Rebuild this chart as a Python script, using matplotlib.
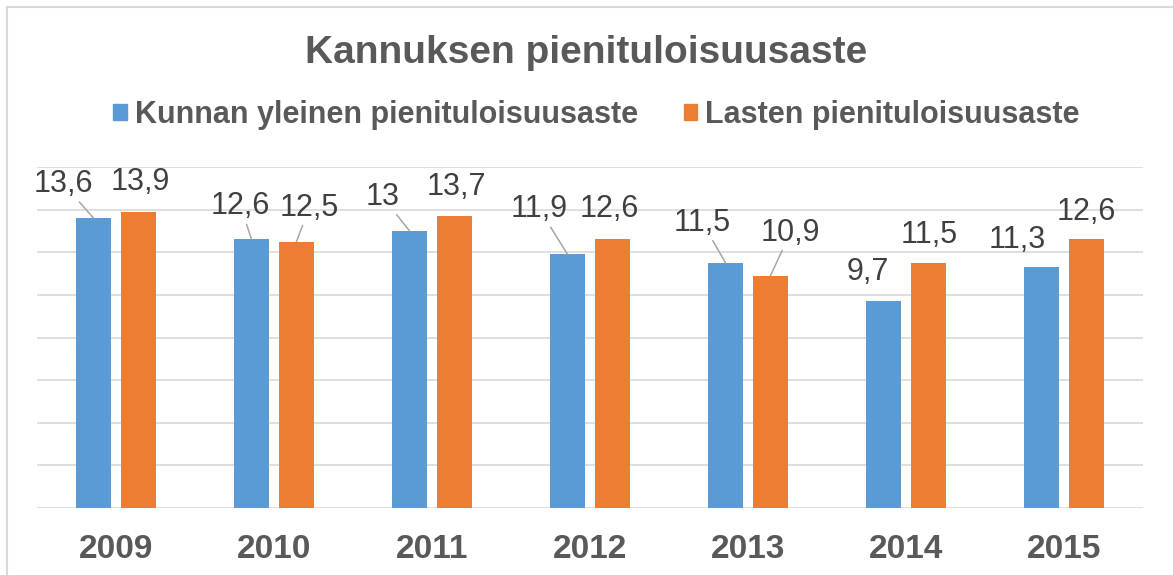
import numpy as np
from matplotlib import pyplot as plt
from matplotlib.patches import Patch
from matplotlib.lines import Line2D

# Data
years = ["2009", "2010", "2011", "2012", "2013", "2014", "2015"]
kunta = [13.6, 12.6, 13.0, 11.9, 11.5, 9.7, 11.3]
lapset = [13.9, 12.5, 13.7, 12.6, 10.9, 11.5, 12.6]
series_names = ["Kunnan yleinen pienituloisuusaste", "Lasten pienituloisuusaste"]

# label offsets (pixels from bar top) and whether a leader line is drawn
kunta_off = [(-30, 34), (-11, 33), (-27, 34), (-28, 45), (-23, 40), (-16, 29), (-24, 27)]
kunta_lead = [True, True, True, True, True, False, False]
lapset_off = [(2, 30), (13, 34), (2, 29), (-3, 30), (20, 43), (1, 28), (0, 27)]
lapset_lead = [False, True, False, False, True, False, False]

blue = "#5B9BD5"
orange = "#ED7D31"
grid_c = "#D9D9D9"
txt_c = "#595959"
lbl_c = "#404040"

plt.rcParams["font.family"] = ["Liberation Sans", "DejaVu Sans"]

fig = plt.figure(figsize=(11.73, 5.75), dpi=100)
ax = fig.add_axes([37 / 1173, 1 - 508 / 575, (1143 - 37) / 1173, (508 - 167) / 575])

x = np.arange(len(years))
w = 0.222
off = 0.142
ax.bar(x - off, kunta, w, color=blue, zorder=3)
ax.bar(x + off, lapset, w, color=orange, zorder=3)

ax.set_xlim(-0.5, len(years) - 0.5)
ax.set_ylim(0, 16)
ax.set_yticks(np.arange(0, 17, 2))
ax.yaxis.grid(True, color=grid_c, lw=1.2, zorder=0)
ax.tick_params(axis="y", length=0, labelleft=False)
ax.tick_params(axis="x", length=0, pad=19, labelsize=24, labelcolor=txt_c)
ax.set_xticks(x)
ax.set_xticklabels(years, fontweight="bold")
for s in ["top", "right", "left", "bottom"]:
    ax.spines[s].set_visible(False)


def fmt(v):
    s = ("%.1f" % v).replace(".", ",")
    return s[:-2] if s.endswith(",0") else s


def label(xs, vals, offs, leads):
    for xi, v, (dx, dy), lead in zip(xs, vals, offs, leads):
        props = None
        if lead:
            props = dict(arrowstyle="-", color="#A6A6A6", lw=1.1, shrinkA=0, shrinkB=0)
        ax.annotate(fmt(v), xy=(xi, v), xytext=(dx, dy), textcoords="offset pixels",
                    ha="center", va="center", fontsize=22, color=lbl_c,
                    arrowprops=props, zorder=4)


label(x - off, kunta, kunta_off, kunta_lead)
label(x + off, lapset, lapset_off, lapset_lead)

fig.text(0.5, 1 - 53 / 575, "Kannuksen pienituloisuusaste", ha="center", va="center",
         fontsize=28, fontweight="bold", color=txt_c)

handles = [Patch(color=blue), Patch(color=orange)]
fig.legend(handles, series_names, loc="center", bbox_to_anchor=(0.5085, 1 - 115 / 575),
           ncol=2, frameon=False, handlelength=0.45, handleheight=0.45,
           handletextpad=0.26, columnspacing=1.5,
           prop=dict(size=22, weight="bold"), labelcolor=txt_c)

# outer chart frame
fig.add_artist(Line2D([7 / 1173, 7 / 1173], [0, 1 - 7 / 575], transform=fig.transFigure,
                      color=grid_c, lw=1.5))
fig.add_artist(Line2D([7 / 1173, 1], [1 - 7 / 575, 1 - 7 / 575], transform=fig.transFigure,
                      color=grid_c, lw=1.5))

fig.savefig("out.png", dpi=100)
